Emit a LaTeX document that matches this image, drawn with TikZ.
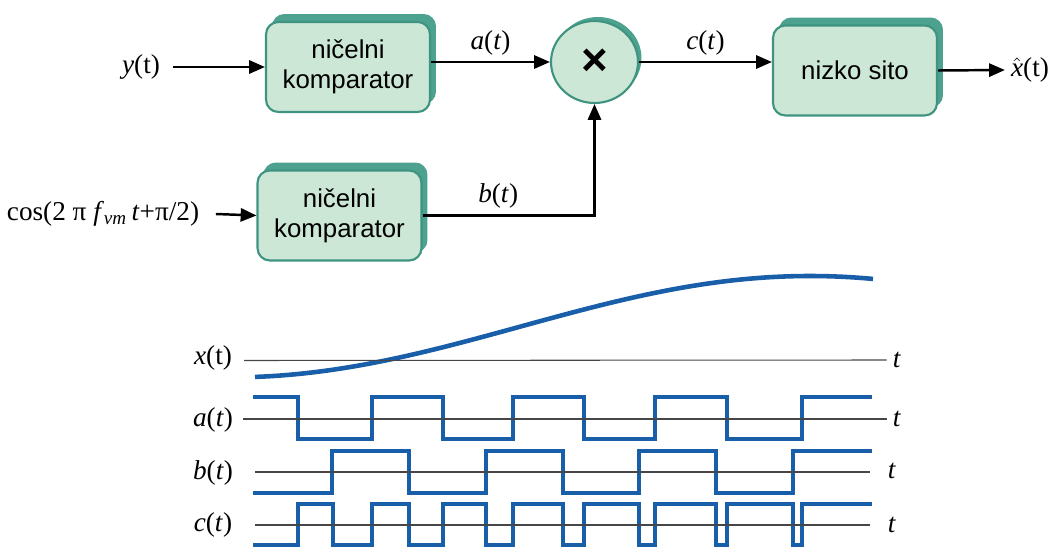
\documentclass[tikz,border=0pt]{standalone}
\usepackage{fontspec}
\setmainfont{Liberation Serif}
\newfontfamily\blokfont{Liberation Sans}
\usepackage{tikz}
\usetikzlibrary{shapes.geometric, arrows.meta, positioning, shadows}

\definecolor{blokfill}{RGB}{205,231,214}
\definecolor{blokrob}{RGB}{62,148,128}
\definecolor{bloksenca}{RGB}{76,162,143}
\definecolor{valmodra}{RGB}{24,94,168}
\definecolor{ossiva}{RGB}{70,70,70}

\newcommand{\oznaka}{\fontsize{15.5}{18}\selectfont}

\begin{document}
\begin{tikzpicture}[x=0.02cm, y=-0.02cm,
  blok/.style={draw=blokrob, line width=1.2pt, fill=blokfill, rounded corners=7pt,
    minimum width=3.28cm, minimum height=1.8cm, align=center,
    font=\blokfont\fontsize{14.7}{17}\selectfont,
    drop shadow={shadow xshift=0.12cm, shadow yshift=0.16cm, opacity=1, fill=bloksenca}},
  lab/.style={font=\oznaka},
  strel/.style={line width=1.4pt, -{Triangle[length=9pt, width=7.5pt]}},
  val/.style={line width=2.3pt, valmodra},
  os/.style={line width=0.6pt, ossiva}]
  \useasboundingbox (0,0) rectangle (1052,547);

  % blokovna shema
  \node[blok] (komp1) at (348,67) {ničelni\\komparator};
  \node[blok] (komp2) at (339.5,215.5) {ničelni\\komparator};
  \node[blok] (sito) at (855,70.5) {nizko sito};
  \node[draw=blokrob, line width=1.2pt, fill=blokfill, ellipse, minimum width=1.74cm, minimum height=1.64cm,
    drop shadow={shadow xshift=0.07cm, shadow yshift=0.08cm, opacity=1, fill=bloksenca},
    font=\blokfont\bfseries\fontsize{26}{26}\selectfont] (mnoz) at (594.5,62) {×};

  \node[lab] (ylab) at (141,67) {\textit{y}(t)};
  \node[lab] (coslab) at (103,214) {cos(2 π \textit{f}\textsubscript{\textit{vm}}\,\textit{t}+π/2)};
  \node[lab] (xlab) at (1030,70) {$\hat{\hbox{\textit{x}}}$(t)};

  \draw[strel] ([xshift=4pt]ylab.east) -- (komp1.west);
  \draw[strel] (komp1.east |- mnoz.west) -- (mnoz.west) node[lab, midway, above] {\textit{a}(\textit{t})};
  \draw[strel] (mnoz.east) -- (sito.west |- mnoz.east) node[lab, midway, above] {\textit{c}(\textit{t})};
  \draw[strel] (sito.east) -- (xlab.west);
  \draw[strel] ([xshift=6pt]coslab.east) -- (komp2.west);
  \draw[strel] (komp2.east) -| (mnoz.south) node[lab, pos=0.22, above] {\textit{b}(\textit{t})};

  % casovni poteki
  \draw[val, line width=2.6pt] plot[domain=255:873, samples=80] (\x, {326.7+50.7*cos((\x-230)*0.310345)});
  \draw[val] (253,397) -| (298,439) -| (372,397) -| (443,439) -| (513,397) -| (584,439)
    -| (655,397) -| (727,439) -| (802,397) -- (872,397);
  \draw[val] (253,493) -| (332,451) -| (409,493) -| (486,451) -| (563,493) -| (639,451)
    -| (716,493) -| (793,451) -- (872,451);
  \draw[val] (253,545) -| (298,504) -| (333,545) -| (372,504) -| (409,545) -| (443,504)
    -| (486,545) -| (513,504) -| (563,545) -| (584,504) -| (639,545) -| (655,504)
    -| (716,545) -| (727,504) -| (793,545) -| (802,504) -- (872,504);

  \node[lab] (xt) at (213,358) {\textit{x}(t)};
  \node[lab] (at) at (213,420) {\textit{a}(\textit{t})};
  \node[lab] (bt) at (213,473) {\textit{b}(\textit{t})};
  \node[lab] (ct) at (213,525) {\textit{c}(\textit{t})};
  \node[lab] (xtt) at (897,360) {\textit{t}};
  \node[lab] (att) at (897,419) {\textit{t}};
  \node[lab] (btt) at (892,471) {\textit{t}};
  \node[lab] (ctt) at (892,525) {\textit{t}};

  \draw[os] (244,360.5) -- (xtt.west);
  \draw[os] (243,419) -- (att.west);
  \draw[os] (255,472) -- (870,472);
  \draw[os] (255,525) -- (870,525);
\end{tikzpicture}
\end{document}
